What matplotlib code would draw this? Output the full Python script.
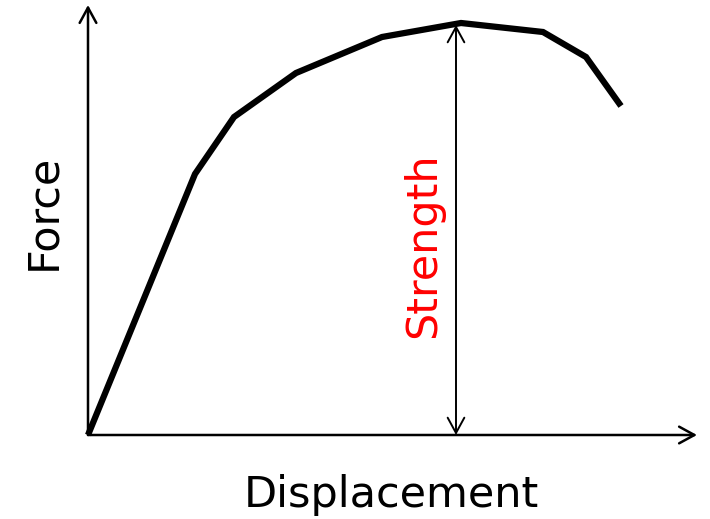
import matplotlib
matplotlib.use("Agg")
import matplotlib.pyplot as plt

# Curve data (arbitrary units)
displacement = [0, 1.07, 1.46, 2.08, 2.94, 3.73, 4.55, 4.98, 5.33]
force = [0, 2.61, 3.18, 3.62, 3.98, 4.12, 4.03, 3.78, 3.29]

x_label = "Displacement"
y_label = "Force"
strength_label = "Strength"

fig = plt.figure(figsize=(7.10, 5.19), dpi=100)
ax = fig.add_axes([0, 0, 1, 1])
ax.set_xlim(-0.88, 6.22)
ax.set_ylim(-0.84, 4.35)
ax.axis("off")

arrow_kw = dict(arrowstyle="->,head_length=11,head_width=6", mutation_scale=1,
                lw=1.8, color="black", shrinkA=0, shrinkB=0)
# axes
ax.annotate("", xy=(0, 4.30), xytext=(0, 0), arrowprops=arrow_kw)
ax.annotate("", xy=(6.09, 0), xytext=(0, 0), arrowprops=arrow_kw)

# curve
ax.plot(displacement, force, color="black", lw=4.5, solid_joinstyle="miter", solid_capstyle="butt")

# strength arrow
peak_i = force.index(max(force))
sx = 3.68
s_kw = dict(arrowstyle="<->,head_length=11,head_width=6", mutation_scale=1,
            lw=1.4, color="black", shrinkA=0, shrinkB=0)
ax.annotate("", xy=(sx, force[peak_i] - 0.02), xytext=(sx, 0), arrowprops=s_kw)
ax.text(3.47, 1.895, strength_label, rotation=90, color="red",
        ha="center", va="baseline", rotation_mode="anchor", fontsize=31)

ax.text(3.035, -0.72, x_label, ha="center", va="baseline", fontsize=31)
ax.text(-0.33, 2.235, y_label, rotation=90, ha="center", va="baseline",
        rotation_mode="anchor", fontsize=31)

fig.savefig("out.png", dpi=100)
